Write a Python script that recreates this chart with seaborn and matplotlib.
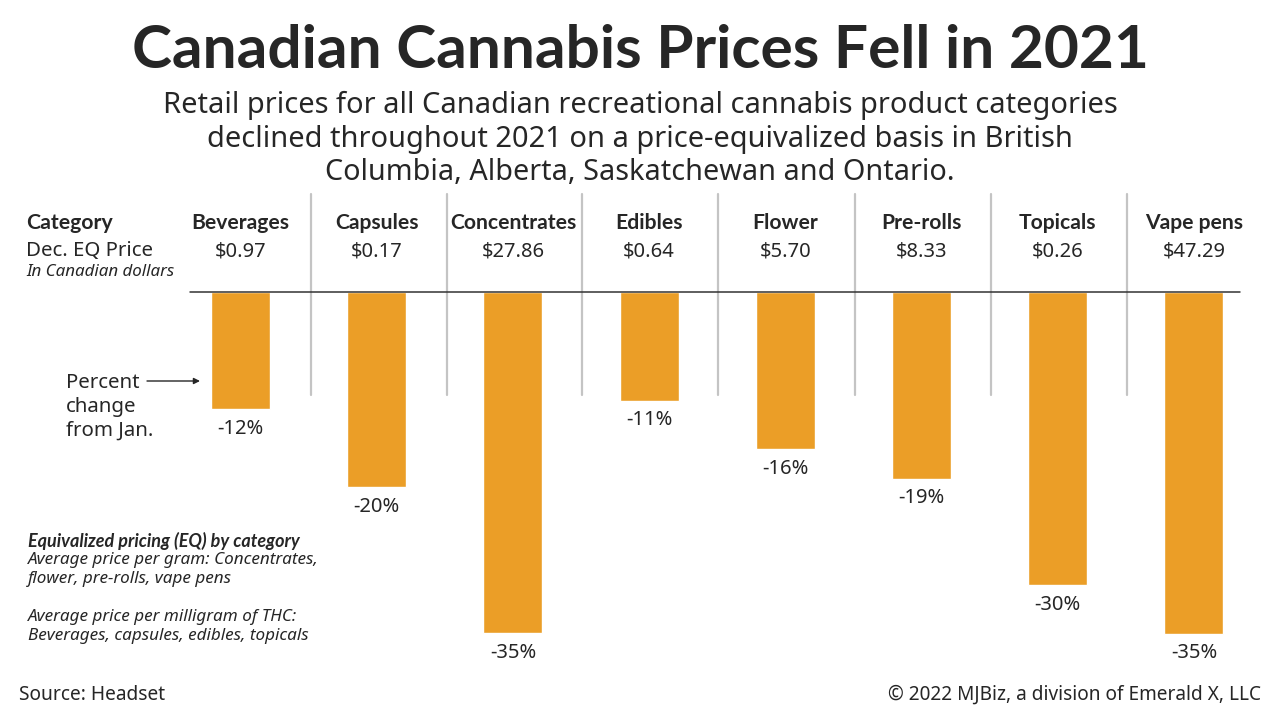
import pandas as pd
import matplotlib.pyplot as plt
import seaborn as sns

sns.set_theme(style="white")
plt.rcParams["font.family"] = ["Noto Sans", "DejaVu Sans"]

categories = ["Beverages", "Capsules", "Concentrates", "Edibles", "Flower", "Pre-rolls", "Topicals", "Vape pens"]
prices = ["$0.97", "$0.17", "$27.86", "$0.64", "$5.70", "$8.33", "$0.26", "$47.29"]
pct_labels = ["-12%", "-20%", "-35%", "-11%", "-16%", "-19%", "-30%", "-35%"]
# bar lengths, labels above are the printed rounded ones
pct_change = [-12, -20, -35, -11.15, -16.1, -19.15, -30.05, -35.05]

W, H = 1280, 720
DARK = "#262626"
ORANGE = "#EB9E27"
BOLD = "Lato"

df = pd.DataFrame({"Category": categories, "Change": pct_change})

fig = plt.figure(figsize=(12.8, 7.2), dpi=100, facecolor="white")

# axes box is set so that one percent is 9.75 px and zero sits at y=292
ax = fig.add_axes([172.4 / W, 1 - 660 / H, 1089.6 / W, 368 / H])
sns.barplot(data=df, x="Category", y="Change", color=ORANGE, saturation=1, width=0.432, ax=ax)
ax.set_xlim(-0.5, 7.5)
ax.set_ylim(-368 / 9.75, 0)
ax.axis("off")
ax.patch.set_alpha(0)

for i, v in enumerate(pct_change):
    ax.annotate(pct_labels[i], (i, v), xytext=(0, -7), textcoords="offset points",
                ha="center", va="top", fontsize=14.5, color=DARK)


def txt(x, y, s, **kw):
    kw.setdefault("color", DARK)
    kw.setdefault("va", "center")
    return fig.text(x / W, 1 - y / H, s, **kw)


def seg(x0, y0, x1, y1, **kw):
    fig.add_artist(plt.Line2D([x0 / W, x1 / W], [1 - y0 / H, 1 - y1 / H], **kw))


# title block
txt(640, 51, "Canadian Cannabis Prices Fell in 2021", ha="center", fontsize=43.5,
    fontweight="bold", family=BOLD)
txt(640, 105, "Retail prices for all Canadian recreational cannabis product categories",
    ha="center", fontsize=20.9)
txt(640, 139, "declined throughout 2021 on a price-equivalized basis in British",
    ha="center", fontsize=20.9)
txt(640, 173, "Columbia, Alberta, Saskatchewan and Ontario.", ha="center", fontsize=20.7)

# header row
txt(26, 223, "Category", fontsize=15.3, fontweight="bold", family=BOLD)
txt(26, 251, "Dec. EQ Price", fontsize=14.7)
txt(26, 272, "In Canadian dollars", fontsize=12.2, style="italic")
for i, (c, p) in enumerate(zip(categories, prices)):
    x = ax.transData.transform((i, 0))[0]
    txt(x, 223, c, ha="center", fontsize=15.2, fontweight="bold", family=BOLD)
    txt(x, 251, p, ha="center", fontsize=14.5)

# separators and zero line
for x in [311, 447, 582, 718, 855, 991, 1127]:
    seg(x, 194, x, 395, color="#c4c4c4", lw=1.6, zorder=0)
seg(190, 292, 1240, 292, color="#333333", lw=1.1, zorder=3)

# percent change note
txt(66, 383, "Percent", fontsize=14.7)
txt(66, 407, "change", fontsize=14.7)
txt(66, 431, "from Jan.", fontsize=14.7)
ax.annotate("", xy=(200 / W, 1 - 381 / H), xytext=(147 / W, 1 - 381 / H), xycoords="figure fraction",
            textcoords="figure fraction", arrowprops=dict(arrowstyle="-|>", color=DARK, lw=1, mutation_scale=9, shrinkA=0, shrinkB=0))

# EQ notes
txt(28, 541, "Equivalized pricing (EQ) by category", fontsize=13, style="italic",
    fontweight="bold", family=BOLD)
txt(28, 560, "Average price per gram: Concentrates,", fontsize=12.3, style="italic")
txt(28, 579, "flower, pre-rolls, vape pens", fontsize=12.3, style="italic")
txt(28, 617, "Average price per milligram of THC:", fontsize=12.3, style="italic")
txt(28, 636, "Beverages, capsules, edibles, topicals", fontsize=12.3, style="italic")

# footer
txt(19, 695, "Source: Headset", fontsize=13.8)
txt(1261, 695, "© 2022 MJBiz, a division of Emerald X, LLC", ha="right", fontsize=13.7)

fig.savefig("out.png", dpi=100)
